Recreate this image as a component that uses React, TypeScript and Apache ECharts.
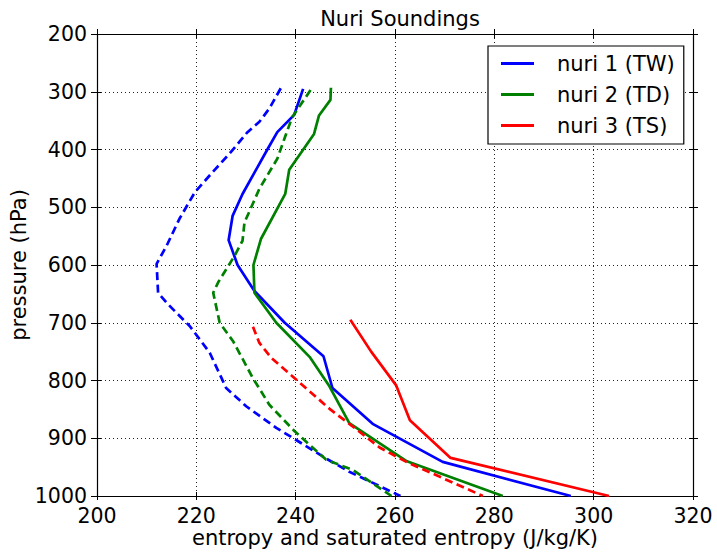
import React, { useEffect, useRef } from "react";
import * as echarts from "echarts";

const FONT = "DejaVu Sans";

const chartTitle = "Nuri Soundings";
const xName = "entropy and saturated entropy (J/kg/K)";
const yName = "pressure (hPa)";
const legendNames = ["nuri 1 (TW)", "nuri 2 (TD)", "nuri 3 (TS)"];

// [entropy, pressure]
const nuri1Entropy: number[][] = [
  [241.5, 295], [239.7, 340], [236.3, 370], [234.3, 400], [231.7, 440],
  [229.3, 477], [227.3, 515], [226.5, 557], [228.3, 600], [231.7, 645],
  [237.8, 700], [245.6, 758], [247.4, 813], [255.5, 875], [269.6, 941],
  [295.4, 1000],
];
const nuri1Saturated: number[][] = [
  [237.0, 294], [234.7, 329], [232.7, 352], [230.3, 370], [226.7, 407],
  [223.3, 439], [219.7, 474], [216.6, 520], [214.0, 567], [212.0, 598],
  [212.3, 648], [214.3, 668], [218.7, 706], [222.7, 752], [226.0, 813],
  [230.1, 845], [236.1, 882], [240.1, 903], [246.1, 935], [250.8, 958],
  [261.1, 1000],
];
const nuri2Entropy: number[][] = [
  [247.1, 293], [247.0, 314], [244.7, 341], [243.7, 373], [238.7, 435],
  [237.9, 477], [233.0, 555], [231.5, 600], [231.7, 648], [236.1, 700],
  [242.8, 759], [246.8, 810], [250.8, 874], [262.4, 940], [281.7, 1000],
];
const nuri2Saturated: number[][] = [
  [243.0, 297], [239.3, 344], [238.0, 375], [236.3, 416], [232.7, 468],
  [230.7, 507], [229.7, 526], [229.3, 558], [227.7, 584], [224.4, 630],
  [223.4, 648], [224.7, 700], [227.4, 732], [231.4, 796], [234.7, 842],
  [239.8, 888], [246.1, 937], [251.5, 955], [259.3, 1000],
];
const nuri3Entropy: number[][] = [
  [251.0, 695], [255.2, 750], [260.2, 808], [263.0, 869], [271.2, 934],
  [303.1, 1000],
];
const nuri3Saturated: number[][] = [
  [231.4, 707], [232.7, 735], [235.1, 761], [239.8, 796], [247.1, 851],
  [250.8, 875], [256.9, 916], [262.3, 941], [277.7, 1000],
];

const X_MIN = 200, X_MAX = 320, X_STEP = 20;
const Y_MIN = 200, Y_MAX = 1000, Y_STEP = 100;

const BLUE = "#0000ff", GREEN = "#008000", RED = "#ff0000";

export default function App() {
  const ref = useRef<HTMLDivElement>(null);
  useEffect(() => {
    if (!ref.current) return;
    const chart = echarts.init(ref.current, undefined, { renderer: "svg" });
    const tickLine = { color: "#000", width: 1 };
    const xBase = { type: "value" as const, min: X_MIN, max: X_MAX, interval: X_STEP };
    const yBase = { type: "value" as const, min: Y_MIN, max: Y_MAX, interval: Y_STEP, inverse: true };
    const hidden = { axisLabel: { show: false }, splitLine: { show: false } };
    const plain = (v: number) => String(v);
    const solid = (name: string, color: string, data: number[][]) => ({
      name, type: "line", data, symbol: "none", xAxisIndex: 0, yAxisIndex: 0,
      lineStyle: { color, width: 2.7 }, itemStyle: { color }, silent: true,
    });
    const dashed = (name: string, color: string, data: number[][]) => ({
      name, type: "line", data, symbol: "none", xAxisIndex: 0, yAxisIndex: 0,
      lineStyle: { color, width: 2.7, type: [8, 4.5] }, itemStyle: { color }, silent: true,
    });
    chart.setOption({
      animation: false,
      backgroundColor: "#fff",
      textStyle: { fontFamily: FONT },
      title: {
        text: chartTitle, left: 395, top: 3, textAlign: "center",
        textStyle: { fontSize: 21, fontWeight: "normal", color: "#000", fontFamily: FONT },
      },
      legend: {
        data: legendNames, orient: "vertical", left: 488, top: 46,
        icon: "rect", itemWidth: 33, itemHeight: 3, itemGap: 10,
        padding: [7, 9, 8, 13], borderColor: "#000", borderWidth: 1.2, borderRadius: 0,
        backgroundColor: "#fff",
        textStyle: { fontSize: 21, color: "#000", fontFamily: FONT, padding: [0, 0, 0, 18], lineHeight: 21 },
        selectedMode: false,
      },
      grid: { left: 97, right: 24, top: 34, bottom: 56, containLabel: false, outerBoundsMode: "none" },
      xAxis: [
        {
          ...xBase, position: "bottom",
          name: xName, nameLocation: "middle", nameGap: 31, nameMoveOverlap: false,
          nameTextStyle: { fontSize: 21, color: "#000", fontFamily: FONT },
          axisLine: { show: true, onZero: false, lineStyle: { color: "#000", width: 1.2 } },
          axisTick: { show: true, inside: false, length: 4, lineStyle: tickLine },
          axisLabel: { fontSize: 20.5, color: "#000", margin: 9, fontFamily: FONT, formatter: plain },
          splitLine: { show: true, lineStyle: { color: "#222", width: 1, type: [1, 3] } },
        },
        { ...xBase, position: "bottom", ...hidden, axisLine: { show: false, onZero: false }, axisTick: { show: true, inside: true, length: 4, lineStyle: tickLine } },
        { ...xBase, position: "top", ...hidden, axisLine: { show: true, onZero: false, lineStyle: { color: "#000", width: 1.2 } }, axisTick: { show: true, inside: false, length: 5, lineStyle: tickLine } },
        { ...xBase, position: "top", ...hidden, axisLine: { show: false, onZero: false }, axisTick: { show: true, inside: true, length: 4, lineStyle: tickLine } },
      ],
      yAxis: [
        {
          ...yBase, position: "left",
          name: yName, nameLocation: "middle", nameGap: 68, nameMoveOverlap: false,
          nameTextStyle: { fontSize: 21, color: "#000", fontFamily: FONT },
          axisLine: { show: true, onZero: false, lineStyle: { color: "#000", width: 1.2 } },
          axisTick: { show: true, inside: false, length: 6, lineStyle: tickLine },
          axisLabel: { fontSize: 20.5, color: "#000", margin: 10, fontFamily: FONT, formatter: plain },
          splitLine: { show: true, lineStyle: { color: "#222", width: 1, type: [1, 3] } },
        },
        { ...yBase, position: "left", ...hidden, axisLine: { show: false, onZero: false }, axisTick: { show: true, inside: true, length: 4, lineStyle: tickLine } },
        { ...yBase, position: "right", ...hidden, axisLine: { show: true, onZero: false, lineStyle: { color: "#000", width: 1.2 } }, axisTick: { show: true, inside: false, length: 5, lineStyle: tickLine } },
        { ...yBase, position: "right", ...hidden, axisLine: { show: false, onZero: false }, axisTick: { show: true, inside: true, length: 4, lineStyle: tickLine } },
      ],
      series: [
        solid(legendNames[0], BLUE, nuri1Entropy),
        dashed("nuri 1 saturated", BLUE, nuri1Saturated),
        solid(legendNames[1], GREEN, nuri2Entropy),
        dashed("nuri 2 saturated", GREEN, nuri2Saturated),
        solid(legendNames[2], RED, nuri3Entropy),
        dashed("nuri 3 saturated", RED, nuri3Saturated),
      ],
    });
    return () => chart.dispose();
  }, []);
  return (
    <div
      ref={ref}
      style={{ position: "absolute", left: 0, top: 0, width: 717, height: 552, background: "#fff" }}
    />
  );
}
